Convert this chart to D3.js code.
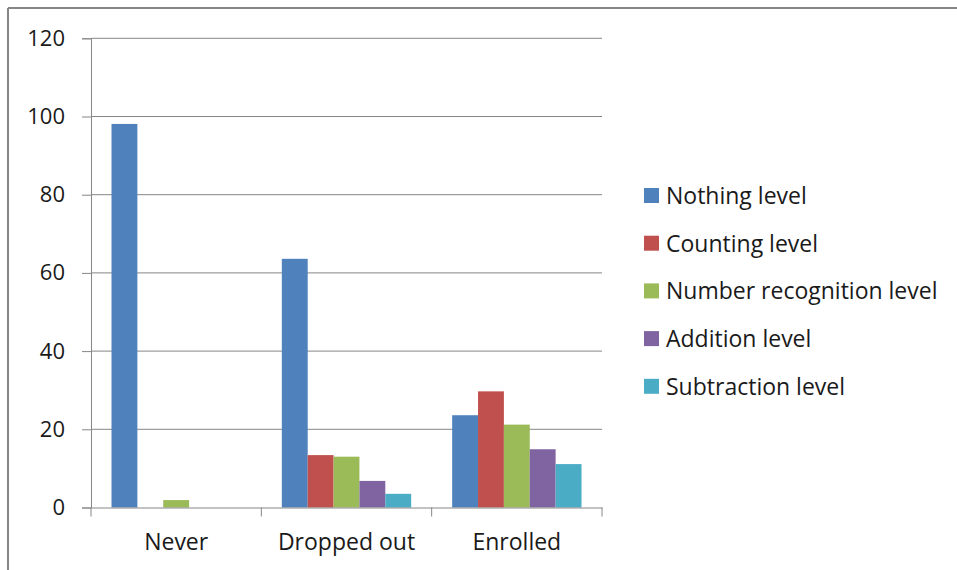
<!DOCTYPE html>
<html><head><meta charset="utf-8">
<script src="https://cdn.jsdelivr.net/npm/d3@7"></script>
<style>body{margin:0;background:#fff}svg{display:block}text{font-family:"Open Sans",sans-serif;fill:#1a1a1a}</style>
</head><body>
<svg id="c" width="957" height="570"></svg>
<script>
const categories = ["Never", "Dropped out", "Enrolled"];
const seriesNames = ["Nothing level", "Counting level", "Number recognition level", "Addition level", "Subtraction level"];
const seriesColors = ["#4F81BD", "#C0504D", "#9BBB59", "#8064A2", "#4BACC6"];
const nothingLevel = [98.1, 63.6, 23.6];
const countingLevel = [0, 13.4, 29.7];
const numberRecognitionLevel = [1.9, 13.0, 21.2];
const additionLevel = [0, 6.8, 14.9];
const subtractionLevel = [0, 3.5, 11.1];
const yTicks = [0, 20, 40, 60, 80, 100, 120];

const seriesValues = [nothingLevel, countingLevel, numberRecognitionLevel, additionLevel, subtractionLevel];
const svg = d3.select("#c");

// frame
svg.append("line").attr("x1",8).attr("x2",957).attr("y1",8).attr("y2",8).attr("stroke","#868686").attr("stroke-width",2);
svg.append("line").attr("x1",8).attr("x2",8).attr("y1",8).attr("y2",570).attr("stroke","#868686").attr("stroke-width",2);

const L = 91, R = 602, T = 38.3, B = 507.5;
const y = d3.scaleLinear().domain([0,120]).range([B,T]);
const x0 = d3.scaleBand().domain(categories).range([L,R]).padding(0);
const bw = x0.bandwidth();
const x1 = d3.scaleBand().domain(seriesNames).range([20.5, bw-20.5]).padding(0);

// gridlines + y axis
const yAxis = d3.axisLeft(y).tickValues(yTicks).tickSize(9).tickPadding(17).tickFormat(d3.format("d"));
const gy = svg.append("g").attr("transform",`translate(${L},0)`).call(yAxis);
gy.select(".domain").attr("stroke","#868686");
gy.selectAll(".tick line").attr("stroke","#868686");
gy.selectAll(".tick text").attr("font-size",22).style("font-family","'Open Sans',sans-serif").attr("fill","#1a1a1a");
svg.append("g").selectAll("line").data(yTicks.filter(d=>d>0)).join("line")
  .attr("x1",L).attr("x2",R).attr("y1",d=>y(d)).attr("y2",d=>y(d))
  .attr("stroke","#868686").attr("stroke-width",1);

// bars
const groups = svg.append("g").selectAll("g").data(categories).join("g")
  .attr("transform",c=>`translate(${x0(c)},0)`);
groups.selectAll("rect").data((c,ci)=>seriesNames.map((s,si)=>({s,si,v:seriesValues[si][ci]})).filter(d=>d.v>0)).join("rect")
  .attr("x",d=>x1(d.s)).attr("width",x1.bandwidth())
  .attr("y",d=>y(d.v)).attr("height",d=>B-y(d.v))
  .attr("fill",d=>seriesColors[d.si]);

// x axis
const xAxis = d3.axisBottom(x0).tickSize(0).tickPadding(26);
const gx = svg.append("g").attr("transform",`translate(0,${B})`).call(xAxis);
gx.select(".domain").attr("stroke","#868686");
gx.selectAll(".tick text").attr("font-size",23).style("font-family","'Open Sans',sans-serif").attr("fill","#1a1a1a");
svg.append("g").selectAll("line").data(categories.map(c=>x0(c)).concat([R])).join("line")
  .attr("x1",d=>d).attr("x2",d=>d).attr("y1",B).attr("y2",B+9).attr("stroke","#868686");

// legend
const lg = svg.append("g").attr("transform","translate(644,196)");
const items = lg.selectAll("g").data(seriesNames).join("g").attr("transform",(d,i)=>`translate(0,${i*47.7})`);
items.append("rect").attr("x",0).attr("y",-8).attr("width",15).attr("height",15).attr("fill",(d,i)=>seriesColors[i]);
items.append("text").attr("x",22).attr("y",0).attr("dy","0.35em").attr("font-size",23).text(d=>d);
</script>
</body></html>
